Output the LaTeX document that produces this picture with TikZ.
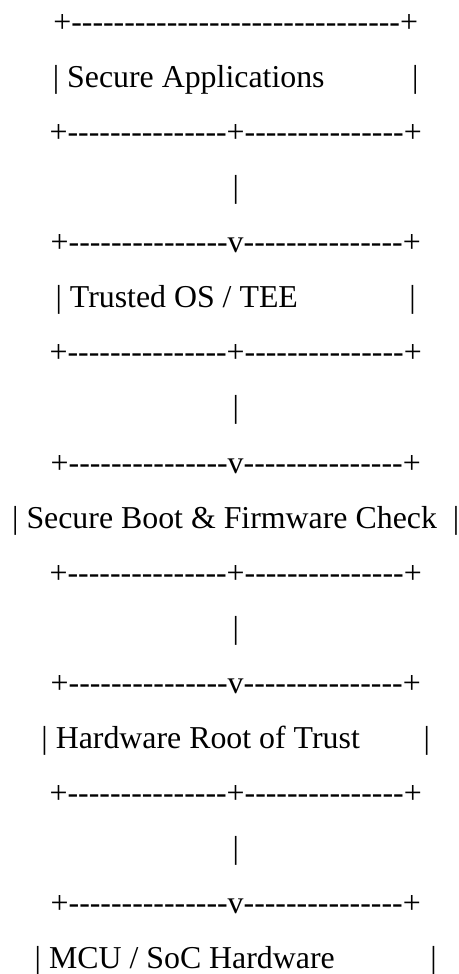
\documentclass[tikz,border=0pt]{standalone}
\usepackage{fontspec}
\setmainfont{Liberation Serif}[Ligatures=TeXOff]
% fixed run of word spaces, as wide as the font's own space
\newcommand\gap[1]{\hspace*{#1\fontdimen2\font}}
\begin{document}
\begin{tikzpicture}[x=1pt,y=-1pt,
  artline/.style={anchor=base, inner sep=0pt, outer sep=0pt,
    font=\fontsize{31.85}{38}\selectfont}]
\useasboundingbox (0,0) rectangle (458,974);
\def\cx{235.7}
\def\lh{55.1}
\def\yb{32.2}
\node[artline] (l0)  at (\cx,\yb+0*\lh)  {+-------------------------------+};
\node[artline] (l1)  at (\cx,\yb+1*\lh)  {| Secure Applications\gap{11}|};
\node[artline] (l2)  at (\cx,\yb+2*\lh)  {+---------------+---------------+};
\node[artline] (l3)  at (\cx,\yb+3*\lh)  {|};
\node[artline] (l4)  at (\cx,\yb+4*\lh)  {+---------------v---------------+};
\node[artline] (l5)  at (\cx,\yb+5*\lh)  {| Trusted OS / TEE\gap{14}|};
\node[artline] (l6)  at (\cx,\yb+6*\lh)  {+---------------+---------------+};
\node[artline] (l7)  at (\cx,\yb+7*\lh)  {|};
\node[artline] (l8)  at (\cx,\yb+8*\lh)  {+---------------v---------------+};
\node[artline] (l9)  at (\cx,\yb+9*\lh)  {| Secure Boot \& Firmware Check\gap{2}|};
\node[artline] (l10) at (\cx,\yb+10*\lh) {+---------------+---------------+};
\node[artline] (l11) at (\cx,\yb+11*\lh) {|};
\node[artline] (l12) at (\cx,\yb+12*\lh) {+---------------v---------------+};
\node[artline] (l13) at (\cx,\yb+13*\lh) {| Hardware Root of Trust\gap{8}|};
\node[artline] (l14) at (\cx,\yb+14*\lh) {+---------------+---------------+};
\node[artline] (l15) at (\cx,\yb+15*\lh) {|};
\node[artline] (l16) at (\cx,\yb+16*\lh) {+---------------v---------------+};
\node[artline] (l17) at (\cx,\yb+17*\lh) {| MCU / SoC Hardware\gap{12}|};
\end{tikzpicture}
\end{document}
